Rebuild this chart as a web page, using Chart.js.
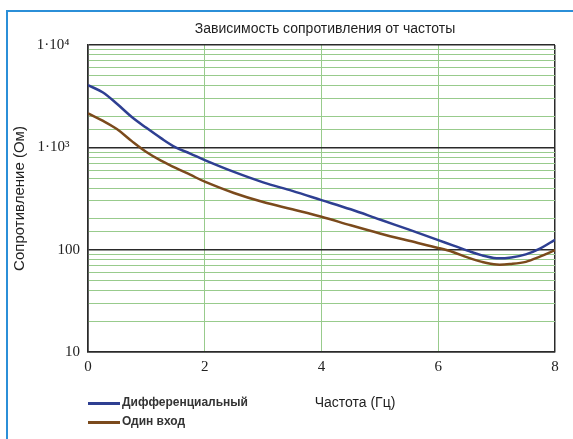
<!DOCTYPE html>
<html>
<head>
<meta charset="utf-8">
<script src="https://cdn.jsdelivr.net/npm/chart.js@4.4.1/dist/chart.umd.min.js"></script>
<style>
  html, body { margin: 0; padding: 0; background: #fff; }
  #wrap { position: relative; width: 573px; height: 439px; overflow: hidden; }
  #frame {
    position: absolute; left: 6px; top: 10px; width: 600px; height: 500px;
    border-left: 2px solid #2b8fd8; border-top: 2px solid #2b8fd8;
  }
  canvas { position: absolute; left: 0; top: 0; }
  .txt { position: absolute; font-family: "Liberation Sans", Arial, sans-serif; color: #1e1e1e; white-space: nowrap; }
  #title { left: 325px; top: 20px; font-size: 14px; transform: translateX(-50%); }
  #xtitle { left: 355px; top: 394px; font-size: 14px; transform: translateX(-50%); }
  .leg { position: absolute; left: 88px; height: 18px; }
  .leg i { position: absolute; left: 0; top: 7px; width: 32px; height: 3px; }
  .leg span { position: absolute; left: 34px; top: 0; font-family: "Liberation Sans", Arial, sans-serif; font-size: 12px; font-weight: bold; color: #333; white-space: nowrap; }
</style>
</head>
<body>
<div id="wrap">
  <div id="frame"></div>
  <canvas id="chart" width="573" height="439"></canvas>
  <div class="txt" id="title">Зависимость сопротивления от частоты</div>
  <div class="txt" id="xtitle">Частота (Гц)</div>
  <div class="leg" style="top:395px"><i style="background:#2e3f92"></i><span>Дифференциальный</span></div>
  <div class="leg" style="top:414px"><i style="background:#7b4a1c"></i><span>Один вход</span></div>
</div>
<script>
// Frequency (Hz) sample points
const freq = [0, 0.25, 0.5, 0.75, 1, 1.25, 1.5, 1.75, 2, 2.5, 3, 3.5, 4, 4.5, 5, 5.5, 6, 6.25, 6.5, 6.75, 7, 7.25, 7.5, 7.75, 8];

// Resistance (Ohm)
const diffValues = [4050, 3450, 2650, 1980, 1550, 1230, 1000, 870, 750, 575, 455, 375, 305, 248, 197, 157, 124, 110, 98, 88, 82.5, 84, 90, 103, 125];
const singleValues = [2150, 1820, 1500, 1150, 900, 740, 630, 540, 462, 358, 292, 248, 210, 173, 144, 122, 104, 95, 84, 76, 71.5, 72.5, 76, 86, 99];

const seriesNames = ['Дифференциальный', 'Один вход'];
const xTicks = [0, 2, 4, 6, 8];
const yLabels = { 10: '10', 100: '100', 1000: '1·10³\u2002\u2009', 10000: '1·10⁴\u2002\u2009' };

const DARK = '#2a2a2a';
const GREEN = '#98cb8c';

function isDecade(v) {
    const l = Math.log10(v);
    return Math.abs(l - Math.round(l)) < 1e-9;
}

const ctx = document.getElementById('chart').getContext('2d');
new Chart(ctx, {
    type: 'line',
    data: {
        datasets: [
            {
                label: seriesNames[0],
                data: freq.map((f, i) => ({ x: f, y: diffValues[i] })),
                borderColor: '#2e3f92',
                borderWidth: 2.5,
                pointRadius: 0,
                tension: 0.35,
                fill: false,
            },
            {
                label: seriesNames[1],
                data: freq.map((f, i) => ({ x: f, y: singleValues[i] })),
                borderColor: '#7b4a1c',
                borderWidth: 2.5,
                pointRadius: 0,
                tension: 0.35,
                fill: false,
            }
        ]
    },
    options: {
        responsive: false,
        animation: false,
        layout: { padding: { top: 45, right: 18, bottom: 0, left: 0 } },
        plugins: {
            legend: { display: false },
            tooltip: { enabled: false },
        },
        scales: {
            x: {
                type: 'linear',
                min: 0,
                max: 8,
                afterBuildTicks: (scale) => { scale.ticks = xTicks.map(v => ({ value: v })); },
                afterFit: (scale) => { scale.height = 87; },
                ticks: {
                    padding: 6,
                    color: '#222',
                    font: { family: '"Liberation Serif", "Times New Roman", serif', size: 15 },
                },
                grid: {
                    drawTicks: false,
                    color: (c) => (c.tick && (c.tick.value === 0 || c.tick.value === 8)) ? DARK : GREEN,
                    lineWidth: (c) => (c.tick && (c.tick.value === 0 || c.tick.value === 8)) ? 1.5 : 1,
                },
                border: { color: DARK, width: 1.5 },
            },
            y: {
                type: 'logarithmic',
                min: 10,
                max: 10000,
                afterFit: (scale) => { scale.width = 88; },
                ticks: {
                    autoSkip: false,
                    padding: 8,
                    color: '#222',
                    font: { family: '"Liberation Serif", "Times New Roman", serif', size: 15 },
                    callback: (v) => yLabels[v] || '',
                },
                grid: {
                    drawTicks: false,
                    color: (c) => (c.tick && isDecade(c.tick.value)) ? DARK : GREEN,
                    lineWidth: (c) => (c.tick && isDecade(c.tick.value)) ? 1.5 : 1,
                },
                border: { color: DARK, width: 1.5 },
                title: {
                    display: true,
                    text: 'Сопротивление (Ом)',
                    color: '#222',
                    font: { family: '"Liberation Sans", Arial, sans-serif', size: 15 },
                    padding: { top: 11, bottom: 0 },
                },
            }
        }
    }
});
</script>
</body>
</html>
